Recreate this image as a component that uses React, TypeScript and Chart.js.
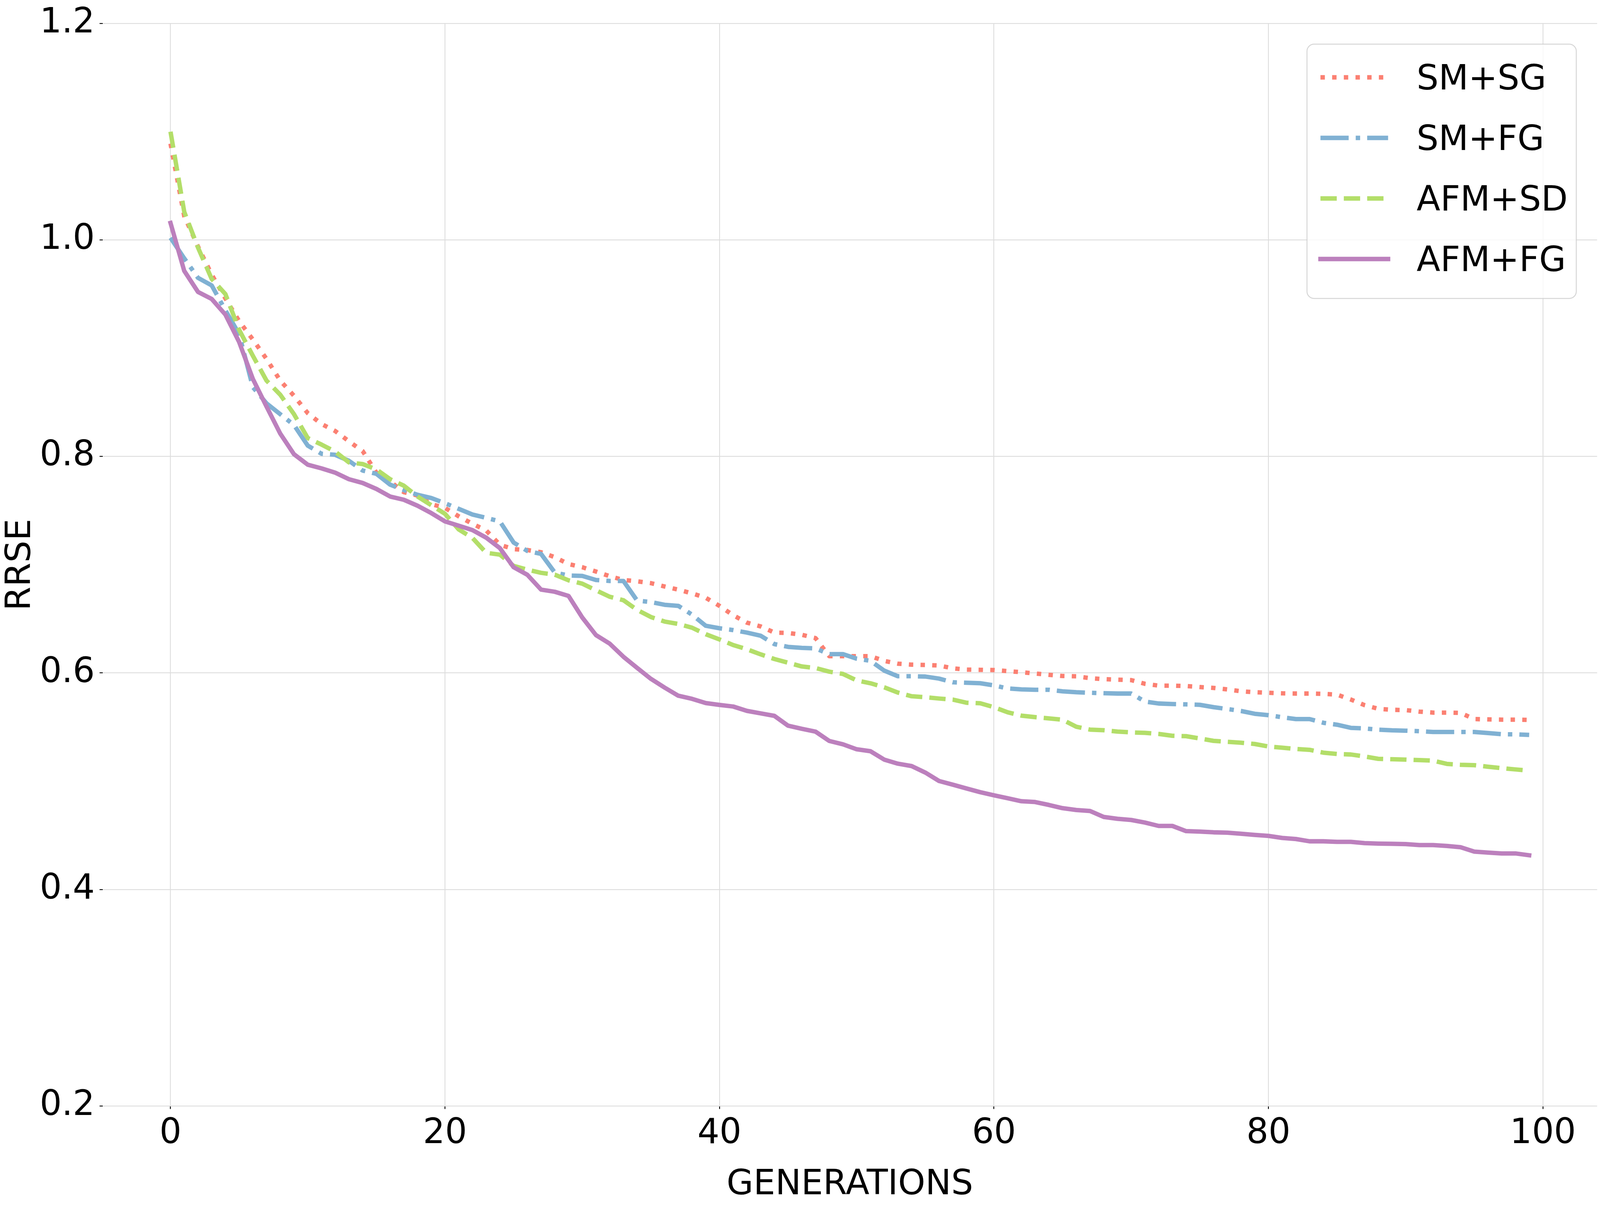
import * as React from 'react';
import {useRef, useEffect} from 'react';
import {Chart, registerables} from 'chart.js';

Chart.register(...registerables);

// generation index 0..99 (x categories)
const generations: number[] = Array.from({length: 100}, (_, i) => i);

const xTicks = [0, 20, 40, 60, 80, 100];
const yTicks = [0.2, 0.4, 0.6, 0.8, 1.0, 1.2];

const seriesNames = ['SM+SG', 'SM+FG', 'AFM+SD', 'AFM+FG'];

const smSg = [
  1.089, 1.022, 0.994, 0.968, 0.946, 0.925, 0.908, 0.890, 0.870, 0.856,
  0.840, 0.830, 0.8235, 0.814, 0.805, 0.785, 0.777, 0.767, 0.764, 0.756,
  0.7525, 0.7447, 0.7378, 0.7317, 0.7184, 0.7144, 0.7136, 0.7115, 0.707, 0.7006,
  0.6977, 0.6937, 0.6894, 0.6859, 0.6847, 0.683, 0.6799, 0.677, 0.6735, 0.6695,
  0.662, 0.6533, 0.6465, 0.643, 0.6373, 0.637, 0.6353, 0.6322, 0.6155, 0.6155,
  0.6155, 0.6155, 0.6112, 0.6086, 0.6077, 0.6074, 0.6069, 0.6043, 0.6031, 0.6029,
  0.6027, 0.6017, 0.6007, 0.5995, 0.5983, 0.5972, 0.5969, 0.5952, 0.5943, 0.5938,
  0.5934, 0.590, 0.5883, 0.5883, 0.5879, 0.587, 0.5862, 0.5848, 0.5831, 0.5822,
  0.5817, 0.5812, 0.581, 0.581, 0.5807, 0.580, 0.5755, 0.5703, 0.5669, 0.566,
  0.5657, 0.5643, 0.5634, 0.5634, 0.5631, 0.5574, 0.5571, 0.5569, 0.5569, 0.5566,
];

const smFg = [
  1.002, 0.983, 0.965, 0.958, 0.935, 0.913, 0.864, 0.849, 0.839, 0.829,
  0.810, 0.8025, 0.8015, 0.796, 0.787, 0.784, 0.774, 0.769, 0.7646, 0.7616,
  0.7568, 0.7516, 0.7464, 0.7433, 0.740, 0.7205, 0.7127, 0.710, 0.6928, 0.690,
  0.6897, 0.6859, 0.685, 0.685, 0.6669, 0.6655, 0.663, 0.662, 0.6539, 0.6436,
  0.6413, 0.6396, 0.6373, 0.6344, 0.6267, 0.6241, 0.6232, 0.6227, 0.6174, 0.6174,
  0.6132, 0.6112, 0.6022, 0.597, 0.597, 0.5967, 0.5948, 0.5914, 0.591, 0.5905,
  0.5885, 0.5857, 0.5848, 0.5845, 0.5845, 0.583, 0.5822, 0.5817, 0.5813, 0.581,
  0.581, 0.5736, 0.5718, 0.5713, 0.571, 0.5706, 0.5684, 0.5667, 0.5649, 0.5623,
  0.561, 0.5591, 0.5574, 0.5574, 0.554, 0.5522, 0.5493, 0.5488, 0.5476, 0.547,
  0.5467, 0.5462, 0.5455, 0.5455, 0.5455, 0.5455, 0.5445, 0.5434, 0.5433, 0.5428,
];

const afmSd = [
  1.100, 1.026, 0.993, 0.964, 0.950, 0.917, 0.893, 0.870, 0.857, 0.839,
  0.817, 0.811, 0.8045, 0.7945, 0.793, 0.788, 0.779, 0.773, 0.763, 0.755,
  0.747, 0.7326, 0.7248, 0.711, 0.7093, 0.6989, 0.6954, 0.6925, 0.6908, 0.6856,
  0.6825, 0.6764, 0.6704, 0.6672, 0.6583, 0.6517, 0.6475, 0.6453, 0.6418, 0.6358,
  0.631, 0.6258, 0.6219, 0.6172, 0.6129, 0.6095, 0.606, 0.6046, 0.6012, 0.5991,
  0.5931, 0.5905, 0.5868, 0.5819, 0.5785, 0.5776, 0.5764, 0.5754, 0.5725, 0.572,
  0.5684, 0.5637, 0.5606, 0.5592, 0.558, 0.5568, 0.5503, 0.5477, 0.5471, 0.5459,
  0.5451, 0.5447, 0.5437, 0.542, 0.5416, 0.5395, 0.5373, 0.5364, 0.5356, 0.5344,
  0.5321, 0.531, 0.5298, 0.529, 0.5264, 0.5252, 0.5247, 0.5229, 0.5207, 0.5203,
  0.520, 0.5195, 0.519, 0.516, 0.5152, 0.5148, 0.5134, 0.5121, 0.5109, 0.5097,
];

const afmFg = [
  1.0157, 0.9714, 0.952, 0.9455, 0.931, 0.9057, 0.8716, 0.846, 0.821, 0.802,
  0.7924, 0.789, 0.785, 0.779, 0.7755, 0.770, 0.763, 0.760, 0.7545, 0.7477,
  0.740, 0.736, 0.732, 0.725, 0.7153, 0.6977, 0.6907, 0.677, 0.675, 0.6712,
  0.6513, 0.635, 0.6271, 0.615, 0.6047, 0.5946, 0.5865, 0.579, 0.5761, 0.5722,
  0.5705, 0.569, 0.565, 0.5627, 0.5604, 0.5513, 0.5484, 0.5458, 0.5372, 0.5341,
  0.5295, 0.5277, 0.520, 0.5162, 0.514, 0.508, 0.5002, 0.4968, 0.4933, 0.4899,
  0.487, 0.4843, 0.4815, 0.4808, 0.4781, 0.4751, 0.4734, 0.4725, 0.467, 0.4653,
  0.4642, 0.4618, 0.4587, 0.4587, 0.4539, 0.4535, 0.4528, 0.4525, 0.4515, 0.4504,
  0.4495, 0.4476, 0.4466, 0.4445, 0.4445, 0.444, 0.444, 0.4428, 0.4424, 0.4422,
  0.4419, 0.441, 0.441, 0.4402, 0.439, 0.435, 0.4341, 0.4333, 0.4333, 0.4316,
];

const seriesValues = [smSg, smFg, afmSd, afmFg];

// layout of the original figure, in its own pixels; scaled to the viewport
const REF_W = 4991;
const REF_H = 3087;
const FONT = '"DejaVu Sans", sans-serif';
const colors = ['#fb8072', '#80b1d3', '#b3de69', '#bc80bd'];
const dashUnits = [
  [1, 1.65],
  [6.4, 1.6, 1, 1.6],
  [3.7, 1.6],
  [],
];
const GRID = '#dddddd';

function App(): JSX.Element {
  const wrapper = useRef<HTMLDivElement>(null);
  const chartContainer = useRef<HTMLCanvasElement>(null);

  useEffect(() => {
    const canvas = chartContainer.current;
    const box = wrapper.current;
    if (!canvas || !box) return;
    const W = box.clientWidth;
    const H = box.clientHeight;
    canvas.width = W;
    canvas.height = H;
    canvas.style.width = W + 'px';
    canvas.style.height = H + 'px';

    const sx = W / REF_W;
    const sy = H / REF_H;
    const s = Math.min(sx, sy);
    const fs = 108 * s;
    const lw = 13.75 * s;
    const tickLen = 9.4 * s;
    const font = {family: FONT, size: fs, lineHeight: 1.2};

    // matplotlib-like legend box in the upper right of the plot
    const boxLegend = {
      id: 'boxLegend',
      afterDatasetsDraw(chart: any) {
        const {ctx, chartArea} = chart;
        const w = 840 * sx;
        const h = 651 * sy;
        const right = chartArea.right - 65 * sx;
        const top = chartArea.top + 53 * sy;
        const left = right - w;
        ctx.save();
        ctx.beginPath();
        ctx.roundRect(left, top, w, h, 22 * s);
        ctx.fillStyle = 'rgba(255,255,255,0.8)';
        ctx.fill();
        ctx.lineWidth = 3 * s;
        ctx.strokeStyle = 'rgba(204,204,204,0.8)';
        ctx.stroke();
        chart.data.datasets.forEach((ds: any, i: number) => {
          const y = top + (85 + i * 155) * sy;
          const dash = ds.borderDash || [];
          ctx.beginPath();
          ctx.setLineDash(dash);
          ctx.lineCap = dash.length ? 'butt' : 'square';
          ctx.lineWidth = ds.borderWidth;
          ctx.strokeStyle = ds.borderColor;
          ctx.moveTo(left + 42 * sx, y);
          ctx.lineTo(left + 253 * sx, y);
          ctx.stroke();
          ctx.setLineDash([]);
          ctx.fillStyle = '#000';
          ctx.font = `${fs}px ${FONT}`;
          ctx.textBaseline = 'alphabetic';
          ctx.textAlign = 'left';
          ctx.fillText(ds.label, left + 342 * sx, y + 38 * s);
        });
        ctx.restore();
      },
    };

    const gridOpts = {
      color: GRID,
      lineWidth: 2.7 * s,
      drawTicks: true,
      tickLength: tickLen,
      tickColor: '#000',
      tickWidth: 2.7 * s,
    };

    const chart = new Chart(canvas, {
      type: 'line',
      data: {
        datasets: seriesNames.map((name, i) => ({
          label: name,
          data: seriesValues[i].map((v, j) => ({x: generations[j], y: v})),
          borderColor: colors[i],
          backgroundColor: colors[i],
          borderWidth: lw,
          borderDash: dashUnits[i].map((d) => d * lw),
          borderCapStyle: dashUnits[i].length ? 'butt' : 'square',
          borderJoinStyle: 'round',
          pointRadius: 0,
          tension: 0,
          fill: false,
          order: 3 - i,
        })),
      },
      options: {
        animation: false,
        responsive: false,
        maintainAspectRatio: false,
        layout: {padding: {left: 0, top: 60 * sy, right: 9 * sx, bottom: 0}},
        plugins: {
          legend: {display: false},
          tooltip: {enabled: false},
        },
        scales: {
          x: {
            type: 'linear',
            min: -4.95,
            max: 103.95,
            afterBuildTicks: (scale: any) => {
              scale.ticks = xTicks.map((v) => ({value: v}));
            },
            afterFit: (scale: any) => {
              scale.height = 256 * sy;
              scale.paddingLeft = 0;
              scale.paddingRight = 0;
            },
            border: {display: false},
            grid: gridOpts,
            ticks: {
              color: '#000',
              font,
              padding: Math.max(0, 72 * sy - tickLen - 0.6 * fs),
              maxRotation: 0,
              autoSkip: false,
              callback: (v: any) => String(v),
            },
            title: {
              display: true,
              text: 'GENERATIONS',
              color: '#000',
              font,
              padding: {top: Math.max(0, 84 * sy - 0.6 * fs), bottom: 0},
            },
          },
          y: {
            type: 'linear',
            min: 0.2,
            max: 1.2,
            afterBuildTicks: (scale: any) => {
              scale.ticks = yTicks.map((v) => ({value: v}));
            },
            afterFit: (scale: any) => {
              scale.width = 320 * sx;
              scale.paddingTop = 0;
              scale.paddingBottom = 0;
            },
            border: {display: false},
            grid: gridOpts,
            ticks: {
              color: '#000',
              font,
              padding: 15 * sx,
              autoSkip: false,
              callback: (v: any) => Number(v).toFixed(1),
            },
            title: {
              display: true,
              text: 'RRSE',
              color: '#000',
              font,
              padding: {top: Math.max(0, 66 * sx - 0.6 * fs), bottom: 0},
            },
          },
        },
      },
      plugins: [boxLegend],
    } as any);
    return () => {
      chart.destroy();
    };
  }, []);

  return (
    <div ref={wrapper} style={{position: 'fixed', left: 0, top: 0, width: '100vw', height: '100vh', background: '#fff'}}>
      <canvas ref={chartContainer} style={{display: 'block'}} />
    </div>
  );
}

export default App;
